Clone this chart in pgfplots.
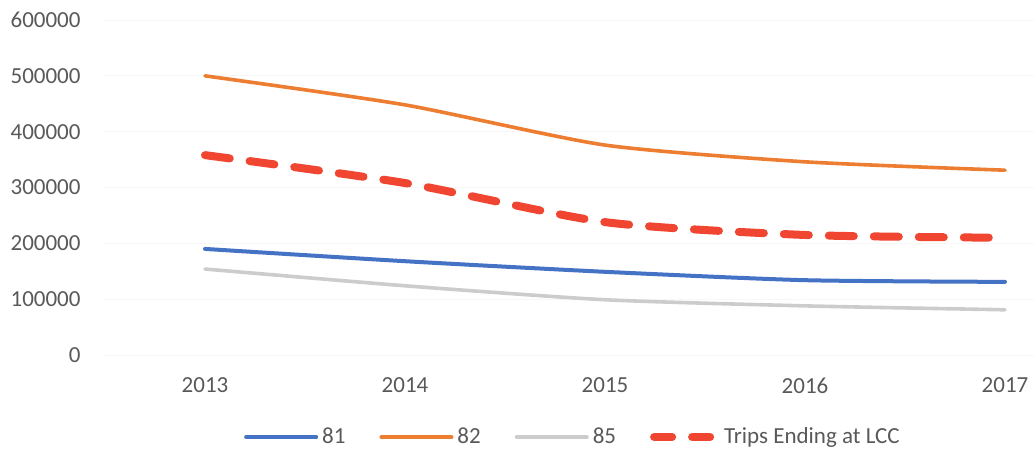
\documentclass[border=0pt]{standalone}
\usepackage{fontspec}
\setmainfont{Carlito}
\usepackage{pgfplots}
\pgfplotsset{compat=1.18}
\definecolor{c81}{HTML}{4472C4}
\definecolor{c82}{HTML}{ED7D31}
\definecolor{c85}{HTML}{CCCCCC}
\definecolor{cLCC}{HTML}{F04531}
\definecolor{txt}{HTML}{595959}
\begin{document}
\begin{tikzpicture}
\path[use as bounding box] (0pt,0pt) rectangle (517pt,226pt);
\begin{axis}[
  at={(52.5pt,48.5pt)}, anchor=south west,
  scale only axis, width=500pt, height=167.5pt,
  xmin=-0.5, xmax=4.5, ymin=0, ymax=600000,
  scaled y ticks=false,
  axis line style={draw=none}, tick style={draw=none},
  ymajorgrids, grid style={color=black!3, line width=0.5pt},
  xtick={0,1,2,3,4}, xticklabels={2013,2014,2015,2016,2017},
  ytick={0,100000,200000,300000,400000,500000,600000},
  yticklabels={0,100000,200000,300000,400000,500000,600000},
  ticklabel style={font=\fontsize{11.5}{14}\selectfont, text=txt},
  yticklabel style={xshift=-8.7pt},
  xticklabel style={yshift=-7.7pt},
  clip=false,
  legend columns=4,
  legend style={draw=none, fill=none, at={(0.469,-0.245)}, anchor=center,
    font=\fontsize{11.5}{14}\selectfont, text=txt,
    /tikz/every even column/.append style={column sep=15pt}},
  legend cell align=left,
]
\addplot[c81, line width=2pt, smooth, tension=0.4, line cap=round,
  legend image code/.code={\draw[c81, line width=2pt, line cap=round] (0pt,0pt) -- (35pt,0pt);}]
  coordinates {(0,190000) (1,168000) (2,149000) (3,134000) (4,131000)};
\addlegendentry{81}
\addplot[c82, line width=1.8pt, smooth, tension=0.4, line cap=round,
  legend image code/.code={\draw[c82, line width=2pt, line cap=round] (0pt,0pt) -- (35pt,0pt);}]
  coordinates {(0,500000) (1,448000) (2,376000) (3,346000) (4,331000)};
\addlegendentry{82}
\addplot[c85, line width=1.8pt, smooth, tension=0.4, line cap=round,
  legend image code/.code={\draw[c85, line width=2pt, line cap=round] (0pt,0pt) -- (35pt,0pt);}]
  coordinates {(0,154000) (1,124000) (2,99000) (3,88000) (4,81000)};
\addlegendentry{85}
\addplot[cLCC, line width=4pt, smooth, tension=0.4, line cap=round,
  dash pattern=on 12.5pt off 10pt,
  legend image code/.code={\draw[cLCC, line width=4pt, line cap=round, dash pattern=on 9pt off 10pt] (2pt,0pt) -- (33pt,0pt);}]
  coordinates {(0,358000) (1,308000) (2,238000) (3,215000) (4,210000)};
\addlegendentry{Trips Ending at LCC}
\end{axis}
\end{tikzpicture}
\end{document}
